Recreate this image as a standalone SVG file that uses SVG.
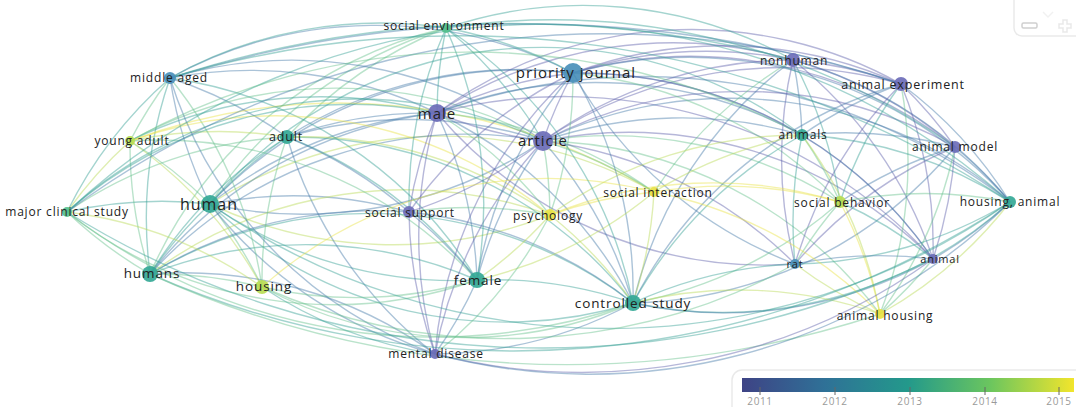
<svg xmlns="http://www.w3.org/2000/svg" width="1076" height="407" viewBox="0 0 1076 407">
<defs>
<linearGradient id="vir" x1="0" y1="0" x2="1" y2="0">
<stop offset="0" stop-color="#3e4385"/>
<stop offset="0.25" stop-color="#2f7197"/>
<stop offset="0.5" stop-color="#23998b"/>
<stop offset="0.75" stop-color="#6cc65e"/>
<stop offset="1" stop-color="#f2e52c"/>
</linearGradient>
</defs>
<style>
path{fill:none;stroke-width:1.4;stroke-opacity:0.45}
.e1{stroke:#5e60aa}.e2{stroke:#4479a8}.e3{stroke:#35a094}.e4{stroke:#66c28c}.e5{stroke:#b8da55}.e6{stroke:#e8e244}
circle{stroke:none;fill-opacity:0.92}
.n1{fill:#6c6cb8}.n2{fill:#4a8fba}.n3{fill:#34a896}.n4{fill:#55c08c}.n5{fill:#b8dc52}.n6{fill:#e8e244}
text{font-family:"Open Sans","Liberation Sans",sans-serif;fill:#222;text-anchor:middle}
.s{font-size:12px;letter-spacing:0.8px}.m{font-size:13.5px;letter-spacing:0.9px}.l{font-size:15px;letter-spacing:1px}
.ui{fill:none;stroke:#cfcfcf;stroke-width:1.5}
.tick{font-size:10px;fill:#9a9a9a;letter-spacing:0.6px}
</style>
<rect width="1076" height="407" fill="#fff"/>
<g id="connectors">
<path class="e2" d="M210 204A430 430 0 0 1 170 78"/>
<path class="e4" d="M130 141A430 430 0 0 1 210 204"/>
<path class="e3" d="M210 204A430 430 0 0 1 287 137"/>
<path class="e2" d="M210 204A430 430 0 0 1 437 113"/>
<path class="e2" d="M543 141A430 430 0 0 1 210 204"/>
<path class="e2" d="M210 204A430 430 0 0 1 573 73"/>
<path class="e3" d="M67 212A430 430 0 0 1 210 204"/>
<path class="e3" d="M150 274A430 430 0 0 1 210 204"/>
<path class="e4" d="M210 204A430 430 0 0 1 262 287"/>
<path class="e3" d="M477 280A430 430 0 0 1 210 204"/>
<path class="e2" d="M210 204A430 430 0 0 1 409 212"/>
<path class="e5" d="M550 215A430 430 0 0 1 210 204"/>
<path class="e3" d="M633 303A430 430 0 0 1 210 204"/>
<path class="e2" d="M210 204A430 430 0 0 0 435 354"/>
<path class="e4" d="M210 204A430 430 0 0 1 446 28"/>
<path class="e5" d="M210 204A430 430 0 0 1 654 192"/>
<path class="e3" d="M210 204A430 430 0 0 1 802 135"/>
<path class="e3" d="M150 274A430 430 0 0 1 170 78"/>
<path class="e4" d="M150 274A430 430 0 0 1 130 141"/>
<path class="e3" d="M150 274A430 430 0 0 1 287 137"/>
<path class="e4" d="M67 212A430 430 0 0 0 150 274"/>
<path class="e4" d="M262 287A430 430 0 0 0 150 274"/>
<path class="e3" d="M477 280A430 430 0 0 0 150 274"/>
<path class="e3" d="M633 303A430 430 0 0 0 150 274"/>
<path class="e2" d="M150 274A430 430 0 0 1 409 212"/>
<path class="e2" d="M150 274A430 430 0 0 1 437 113"/>
<path class="e5" d="M150 274A430 430 0 0 1 550 215"/>
<path class="e2" d="M435 354A430 430 0 0 0 150 274"/>
<path class="e2" d="M150 274A430 430 0 0 1 543 141"/>
<path class="e4" d="M150 274A430 430 0 0 1 446 28"/>
<path class="e2" d="M170 78A430 430 0 0 1 287 137"/>
<path class="e5" d="M287 137A430 430 0 0 0 130 141"/>
<path class="e2" d="M287 137A430 430 0 0 1 437 113"/>
<path class="e2" d="M287 137A430 430 0 0 1 543 141"/>
<path class="e2" d="M287 137A430 430 0 0 1 573 73"/>
<path class="e4" d="M67 212A430 430 0 0 1 287 137"/>
<path class="e3" d="M287 137A430 430 0 0 1 477 280"/>
<path class="e4" d="M287 137A430 430 0 0 0 262 287"/>
<path class="e4" d="M287 137A430 430 0 0 1 446 28"/>
<path class="e2" d="M287 137A430 430 0 0 1 409 212"/>
<path class="e3" d="M287 137A430 430 0 0 1 633 303"/>
<path class="e5" d="M287 137A430 430 0 0 1 550 215"/>
<path class="e2" d="M287 137A430 430 0 0 0 435 354"/>
<path class="e4" d="M170 78A430 430 0 0 0 130 141"/>
<path class="e3" d="M170 78A430 430 0 0 0 67 212"/>
<path class="e2" d="M170 78A430 430 0 0 1 437 113"/>
<path class="e2" d="M170 78A430 430 0 0 1 573 73"/>
<path class="e3" d="M170 78A430 430 0 0 1 446 28"/>
<path class="e2" d="M170 78A430 430 0 0 1 543 141"/>
<path class="e3" d="M170 78A430 430 0 0 1 477 280"/>
<path class="e4" d="M170 78A430 430 0 0 1 262 287"/>
<path class="e5" d="M130 141A430 430 0 0 0 67 212"/>
<path class="e3" d="M130 141A430 430 0 0 1 437 113"/>
<path class="e4" d="M130 141A430 430 0 0 1 543 141"/>
<path class="e4" d="M130 141A430 430 0 0 1 477 280"/>
<path class="e5" d="M130 141A430 430 0 0 1 262 287"/>
<path class="e6" d="M130 141A430 430 0 0 1 550 215"/>
<path class="e6" d="M130 141A600 600 0 0 1 654 192"/>
<path class="e5" d="M262 287A430 430 0 0 0 67 212"/>
<path class="e4" d="M67 212A430 430 0 0 0 477 280"/>
<path class="e3" d="M67 212A430 430 0 0 1 437 113"/>
<path class="e3" d="M67 212A430 430 0 0 1 543 141"/>
<path class="e4" d="M67 212A600 600 0 0 0 633 303"/>
<path class="e1" d="M437 113A430 430 0 0 1 573 73"/>
<path class="e1" d="M437 113A430 430 0 0 0 543 141"/>
<path class="e3" d="M437 113A430 430 0 0 1 446 28"/>
<path class="e1" d="M437 113A430 430 0 0 0 409 212"/>
<path class="e2" d="M437 113A430 430 0 0 1 477 280"/>
<path class="e2" d="M437 113A430 430 0 0 1 633 303"/>
<path class="e1" d="M437 113A430 430 0 0 0 435 354"/>
<path class="e1" d="M437 113A430 430 0 0 1 793 60"/>
<path class="e1" d="M437 113A430 430 0 0 1 901 84"/>
<path class="e2" d="M437 113A430 430 0 0 1 802 135"/>
<path class="e1" d="M437 113A430 430 0 0 0 795 264"/>
<path class="e4" d="M437 113A430 430 0 0 1 550 215"/>
<path class="e4" d="M437 113A430 430 0 0 1 654 192"/>
<path class="e2" d="M437 113A600 600 0 0 1 1010 202"/>
<path class="e1" d="M437 113A500 500 0 0 1 933 259"/>
<path class="e1" d="M543 141A430 430 0 0 1 573 73"/>
<path class="e3" d="M543 141A430 430 0 0 0 446 28"/>
<path class="e1" d="M543 141A430 430 0 0 1 793 60"/>
<path class="e1" d="M543 141A430 430 0 0 1 901 84"/>
<path class="e2" d="M543 141A430 430 0 0 1 802 135"/>
<path class="e1" d="M543 141A430 430 0 0 1 955 147"/>
<path class="e1" d="M543 141A430 430 0 0 1 409 212"/>
<path class="e4" d="M543 141A430 430 0 0 1 550 215"/>
<path class="e4" d="M543 141A430 430 0 0 1 654 192"/>
<path class="e4" d="M543 141A430 430 0 0 1 840 202"/>
<path class="e2" d="M543 141A430 430 0 0 0 477 280"/>
<path class="e2" d="M543 141A430 430 0 0 1 633 303"/>
<path class="e1" d="M543 141A430 430 0 0 1 795 264"/>
<path class="e1" d="M543 141A430 430 0 0 1 933 259"/>
<path class="e2" d="M543 141A430 430 0 0 1 1010 202"/>
<path class="e1" d="M543 141A430 430 0 0 0 435 354"/>
<path class="e4" d="M543 141A430 430 0 0 1 880 314"/>
<path class="e3" d="M573 73A430 430 0 0 0 446 28"/>
<path class="e1" d="M573 73A430 430 0 0 1 793 60"/>
<path class="e1" d="M573 73A430 430 0 0 1 901 84"/>
<path class="e2" d="M573 73A430 430 0 0 1 802 135"/>
<path class="e1" d="M573 73A430 430 0 0 1 955 147"/>
<path class="e4" d="M573 73A430 430 0 0 1 840 202"/>
<path class="e2" d="M573 73A430 430 0 0 1 1010 202"/>
<path class="e2" d="M573 73A430 430 0 0 0 795 264"/>
<path class="e1" d="M573 73A430 430 0 0 1 933 259"/>
<path class="e2" d="M573 73A430 430 0 0 1 633 303"/>
<path class="e2" d="M573 73A430 430 0 0 0 477 280"/>
<path class="e1" d="M573 73A430 430 0 0 0 409 212"/>
<path class="e4" d="M573 73A430 430 0 0 1 550 215"/>
<path class="e1" d="M573 73A430 430 0 0 0 435 354"/>
<path class="e1" d="M793 60A430 430 0 0 1 901 84"/>
<path class="e2" d="M793 60A430 430 0 0 1 802 135"/>
<path class="e1" d="M793 60A430 430 0 0 1 955 147"/>
<path class="e3" d="M793 60A430 430 0 0 1 840 202"/>
<path class="e2" d="M793 60A430 430 0 0 1 1010 202"/>
<path class="e1" d="M793 60A430 430 0 0 0 795 264"/>
<path class="e1" d="M793 60A430 430 0 0 1 933 259"/>
<path class="e2" d="M793 60A430 430 0 0 0 633 303"/>
<path class="e3" d="M793 60A430 430 0 0 0 446 28"/>
<path class="e4" d="M793 60A430 430 0 0 0 654 192"/>
<path class="e2" d="M901 84A430 430 0 0 0 802 135"/>
<path class="e1" d="M901 84A430 430 0 0 1 955 147"/>
<path class="e3" d="M901 84A430 430 0 0 0 840 202"/>
<path class="e2" d="M901 84A430 430 0 0 1 1010 202"/>
<path class="e1" d="M901 84A430 430 0 0 0 795 264"/>
<path class="e1" d="M901 84A430 430 0 0 1 933 259"/>
<path class="e2" d="M901 84A430 430 0 0 0 633 303"/>
<path class="e4" d="M901 84A430 430 0 0 1 880 314"/>
<path class="e2" d="M802 135A430 430 0 0 1 955 147"/>
<path class="e4" d="M802 135A430 430 0 0 1 840 202"/>
<path class="e3" d="M802 135A430 430 0 0 1 1010 202"/>
<path class="e3" d="M802 135A430 430 0 0 0 795 264"/>
<path class="e2" d="M802 135A430 430 0 0 1 933 259"/>
<path class="e5" d="M802 135A430 430 0 0 1 880 314"/>
<path class="e3" d="M802 135A430 430 0 0 0 633 303"/>
<path class="e5" d="M802 135A430 430 0 0 0 654 192"/>
<path class="e5" d="M802 135A430 430 0 0 0 550 215"/>
<path class="e2" d="M955 147A430 430 0 0 0 840 202"/>
<path class="e2" d="M955 147A430 430 0 0 1 1010 202"/>
<path class="e1" d="M955 147A430 430 0 0 0 795 264"/>
<path class="e1" d="M955 147A430 430 0 0 1 933 259"/>
<path class="e2" d="M955 147A430 430 0 0 1 633 303"/>
<path class="e4" d="M955 147A430 430 0 0 1 880 314"/>
<path class="e4" d="M840 202A430 430 0 0 1 1010 202"/>
<path class="e4" d="M840 202A430 430 0 0 0 795 264"/>
<path class="e3" d="M840 202A430 430 0 0 1 933 259"/>
<path class="e6" d="M840 202A430 430 0 0 1 880 314"/>
<path class="e4" d="M840 202A430 430 0 0 1 633 303"/>
<path class="e6" d="M840 202A430 430 0 0 0 654 192"/>
<path class="e6" d="M840 202A430 430 0 0 0 550 215"/>
<path class="e2" d="M1010 202A430 430 0 0 1 933 259"/>
<path class="e3" d="M1010 202A430 430 0 0 1 795 264"/>
<path class="e5" d="M1010 202A430 430 0 0 1 880 314"/>
<path class="e3" d="M1010 202A430 430 0 0 1 633 303"/>
<path class="e2" d="M795 264A430 430 0 0 1 933 259"/>
<path class="e3" d="M795 264A430 430 0 0 0 633 303"/>
<path class="e5" d="M795 264A430 430 0 0 0 880 314"/>
<path class="e4" d="M933 259A430 430 0 0 1 880 314"/>
<path class="e2" d="M933 259A430 430 0 0 1 633 303"/>
<path class="e3" d="M633 303A430 430 0 0 0 477 280"/>
<path class="e5" d="M633 303A430 430 0 0 0 550 215"/>
<path class="e5" d="M633 303A430 430 0 0 0 654 192"/>
<path class="e2" d="M633 303A430 430 0 0 1 435 354"/>
<path class="e5" d="M633 303A430 430 0 0 1 880 314"/>
<path class="e2" d="M633 303A430 430 0 0 0 409 212"/>
<path class="e4" d="M633 303A430 430 0 0 1 262 287"/>
<path class="e2" d="M477 280A430 430 0 0 0 409 212"/>
<path class="e5" d="M477 280A430 430 0 0 0 550 215"/>
<path class="e2" d="M477 280A430 430 0 0 1 435 354"/>
<path class="e4" d="M477 280A430 430 0 0 1 262 287"/>
<path class="e5" d="M477 280A430 430 0 0 0 654 192"/>
<path class="e3" d="M477 280A430 430 0 0 0 446 28"/>
<path class="e1" d="M409 212A430 430 0 0 0 435 354"/>
<path class="e4" d="M409 212A430 430 0 0 1 550 215"/>
<path class="e3" d="M409 212A430 430 0 0 1 446 28"/>
<path class="e6" d="M550 215A430 430 0 0 1 654 192"/>
<path class="e4" d="M550 215A430 430 0 0 1 435 354"/>
<path class="e6" d="M654 192A430 430 0 0 1 880 314"/>
<path class="e6" d="M262 287A430 430 0 0 1 654 192"/>
<path class="e3" d="M435 354A430 430 0 0 1 262 287"/>
<path class="e2" d="M435 354A430 430 0 0 1 170 78"/>
<path class="e3" d="M67 212A700 700 0 0 1 1010 202"/>
<path class="e2" d="M67 212A900 900 0 0 1 901 84"/>
<path class="e2" d="M170 78A1200 1200 0 0 1 901 84"/>
<path class="e3" d="M1010 202A900 900 0 0 1 150 274"/>
<path class="e4" d="M880 314A1000 1000 0 0 1 150 274"/>
<path class="e1" d="M933 259A600 600 0 0 1 435 354"/>
<path class="e2" d="M1010 202A600 600 0 0 1 435 354"/>
<path class="e3" d="M67 212A900 900 0 0 0 933 259"/>
<path class="e3" d="M170 78A1000 1000 0 0 1 1010 202"/>
<path class="e4" d="M130 141A700 700 0 0 1 802 135"/>
<path class="e3" d="M210 204A700 700 0 0 0 1010 202"/>
<path class="e4" d="M262 287A600 600 0 0 0 795 264"/>
<path class="e3" d="M446 28A700 700 0 0 1 955 147"/>
<path class="e3" d="M446 28A430 430 0 0 1 633 303"/>
<path class="e3" d="M170 78A1100 1100 0 0 1 793 60"/>
</g>
<g id="node-social-environment"><circle class="n4" cx="446" cy="28" r="5"/><text class="s" x="444" y="30">social environment</text></g>
<g id="node-middle-aged"><circle class="n2" cx="170" cy="78" r="6"/><text class="s" x="169" y="82">middle aged</text></g>
<g id="node-priority-journal"><circle class="n2" cx="573" cy="73" r="10"/><text class="l" x="576" y="78">priority journal</text></g>
<g id="node-nonhuman"><circle class="n1" cx="793" cy="60" r="7"/><text class="s" x="794" y="65">nonhuman</text></g>
<g id="node-animal-experiment"><circle class="n1" cx="901" cy="84" r="7"/><text class="s" x="903" y="89" style="font-size:12.5px">animal experiment</text></g>
<g id="node-young-adult"><circle class="n5" cx="130" cy="141" r="5"/><text class="s" x="132" y="145">young adult</text></g>
<g id="node-adult"><circle class="n3" cx="287" cy="137" r="7"/><text class="s" x="286" y="141" style="font-size:12.5px">adult</text></g>
<g id="node-male"><circle class="n1" cx="437" cy="113" r="9"/><text class="l" x="437" y="119">male</text></g>
<g id="node-article"><circle class="n1" cx="543" cy="141" r="10"/><text class="l" x="543" y="146">article</text></g>
<g id="node-animals"><circle class="n3" cx="802" cy="135" r="6"/><text class="s" x="803" y="139">animals</text></g>
<g id="node-animal-model"><circle class="n1" cx="955" cy="147" r="6"/><text class="s" x="955" y="151">animal model</text></g>
<g id="node-major-clinical-study"><circle class="n4" cx="67" cy="212" r="5"/><text class="s" x="67" y="216">major clinical study</text></g>
<g id="node-human"><circle class="n3" cx="210" cy="204" r="9"/><text class="l" x="209" y="210" style="font-size:16px">human</text></g>
<g id="node-social-support"><circle class="n1" cx="409" cy="212" r="6"/><text class="s" x="410" y="217">social support</text></g>
<g id="node-psychology"><circle class="n6" cx="550" cy="215" r="6"/><text class="s" x="548" y="220">psychology</text></g>
<g id="node-social-interaction"><circle class="n6" cx="654" cy="192" r="5"/><text class="s" x="658" y="197">social interaction</text></g>
<g id="node-social-behavior"><circle class="n5" cx="840" cy="202" r="6"/><text class="s" x="842" y="207">social behavior</text></g>
<g id="node-housing-animal"><circle class="n3" cx="1010" cy="202" r="6"/><text class="s" x="1010" y="206">housing, animal</text></g>
<g id="node-humans"><circle class="n3" cx="150" cy="274" r="8"/><text class="m" x="152" y="278">humans</text></g>
<g id="node-housing"><circle class="n5" cx="262" cy="287" r="7"/><text class="m" x="264" y="291">housing</text></g>
<g id="node-female"><circle class="n3" cx="477" cy="280" r="8"/><text class="m" x="478" y="285">female</text></g>
<g id="node-rat"><circle class="n2" cx="795" cy="264" r="5"/><text class="s" x="795" y="268" style="font-size:11px">rat</text></g>
<g id="node-animal"><circle class="n1" cx="933" cy="259" r="5"/><text class="s" x="940" y="263" style="font-size:11px">animal</text></g>
<g id="node-controlled-study"><circle class="n3" cx="633" cy="303" r="8"/><text class="m" x="633" y="308">controlled study</text></g>
<g id="node-animal-housing"><circle class="n6" cx="880" cy="314" r="5"/><text class="s" x="885" y="320">animal housing</text></g>
<g id="node-mental-disease"><circle class="n1" cx="435" cy="354" r="5"/><text class="s" x="436" y="358">mental disease</text></g>
<g id="legend">
<path class="ui" d="M1080 370H742a10 10 0 0 0 -10 10V407"/>
<rect x="742" y="378" width="332" height="14" fill="url(#vir)"/>
<g style="stroke:#666;stroke-width:1">
<line x1="760" y1="387" x2="760" y2="395"/><line x1="835" y1="387" x2="835" y2="395"/><line x1="910" y1="387" x2="910" y2="395"/><line x1="985" y1="387" x2="985" y2="395"/><line x1="1059" y1="387" x2="1059" y2="395"/>
</g>
<text class="tick" x="760" y="405">2011</text><text class="tick" x="835" y="405">2012</text><text class="tick" x="910" y="405">2013</text><text class="tick" x="985" y="405">2014</text><text class="tick" x="1059" y="405">2015</text>
</g>
<g id="zoom-control">
<path class="ui" d="M1014 0V28a8 8 0 0 0 8 8H1080"/>
<path class="ui" d="M1043 12l5 5 5 -5" style="stroke:#e0e0e0"/>
<rect class="ui" x="1022" y="23" width="15" height="5" rx="1.5"/>
<path class="ui" d="M1063 20h4v4h4v4h-4v4h-4v-4h-4v-4h4z"/>
</g>
</svg>
